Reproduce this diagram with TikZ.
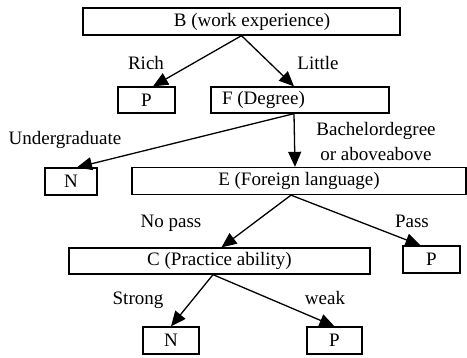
\documentclass[tikz,border=0pt]{standalone}
\usepackage{fontspec}
\setmainfont{Liberation Serif}
\usetikzlibrary{arrows.meta,calc}
\begin{document}
\begin{tikzpicture}[x=1pt,y=-1pt,
  txt/.style={font=\fontsize{19}{25}\selectfont},
  box/.style={draw,line width=1.3pt,rectangle,inner sep=0pt,txt},
  lab/.style={txt,inner sep=0pt,align=center},
  arr/.style={line width=1.3pt,-{Triangle[length=15pt,width=13pt]}}]
\useasboundingbox (0,0) rectangle (467,358);
% boxes
\node[box,minimum width=317pt,minimum height=27pt,label={[lab,xshift=10.5pt]center:B (work experience)}] (B) at (241.5,21.5) {};
\node[box,minimum width=57pt,minimum height=26pt] (P1) at (146.5,100) {P};
\node[box,minimum width=178pt,minimum height=26pt,label={[lab,xshift=-36.5pt]center:F (Degree)}] (F) at (300,100) {};
\node[box,minimum width=52pt,minimum height=27pt] (N1) at (71,181.5) {N};
\node[box,minimum width=334pt,minimum height=27pt] (E) at (299,181) {E (Foreign language)};
\node[box,minimum width=301pt,minimum height=26pt] (C) at (219.5,261) {C (Practice ability)};
\node[box,minimum width=57pt,minimum height=27pt] (P2) at (431.5,259.5) {P};
\node[box,minimum width=56pt,minimum height=27pt] (N3) at (171,340.5) {N};
\node[box,minimum width=55pt,minimum height=27pt] (P3) at (334.5,340.5) {P};
% edge labels
\node[lab] (lRich) at (146,63) {Rich};
\node[lab] (lLittle) at (318,63) {Little};
\node[lab] (lUnder) at (65,140) {Undergraduate};
\node[lab] (lBach) at (376,142) {Bachelordegree\\or aboveabove};
\node[lab] (lNopass) at (171,223) {No pass};
\node[lab] (lPass) at (412,221) {Pass};
\node[lab] (lStrong) at (138,300) {Strong};
\node[lab] (lWeak) at (325,298) {weak};
% connectors
\draw[arr] (B.south) -- ([xshift=6.5pt]P1.north);
\draw[arr] (B.south) -- ([xshift=-6pt]F.north);
\draw[arr] ([xshift=-6pt]F.south) -- ([xshift=6pt]N1.north);
\draw[arr] ([xshift=-6pt]F.south) -- ([xshift=-4pt]E.north);
\draw[arr] ([xshift=-8pt]E.south) -- ([xshift=2pt]C.north);
\draw[arr] ([xshift=-8pt]E.south) -- ([xshift=-11pt]P2.north);
\draw[arr] ([xshift=-6.5pt]C.south) -- (N3.north);
\draw[arr] ([xshift=-6.5pt]C.south) -- (P3.north);
\end{tikzpicture}
\end{document}
